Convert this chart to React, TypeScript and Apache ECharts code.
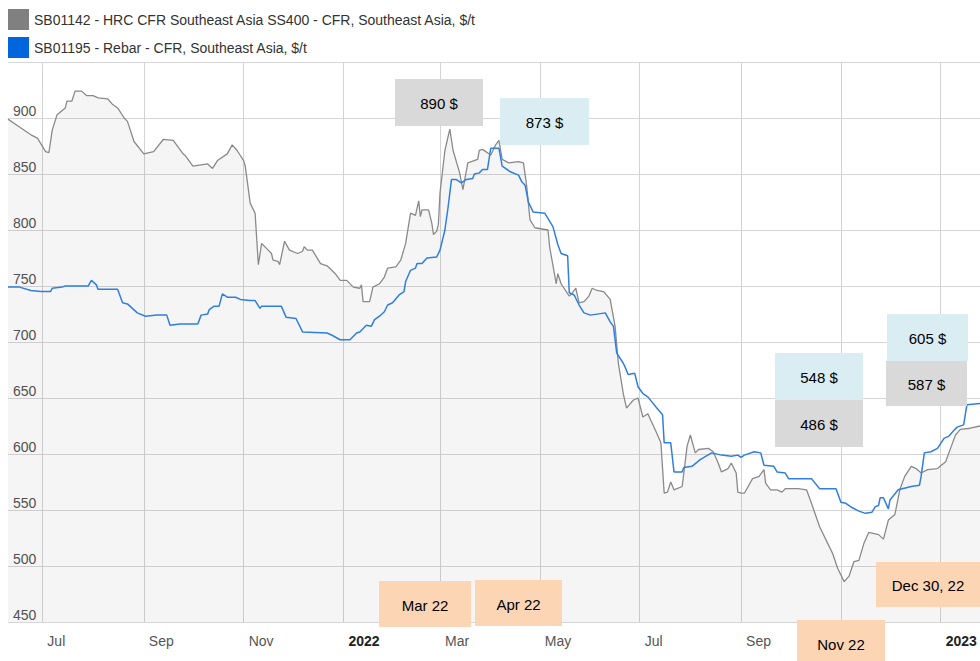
import React, { useEffect, useRef } from "react";
import * as echarts from "echarts";

const FONT = "Liberation Sans";

const hrcName = "SB01142 - HRC CFR Southeast Asia SS400 - CFR, Southeast Asia, $/t";
const rebarName = "SB01195 - Rebar - CFR, Southeast Asia, $/t";

const hrc: [string, number][] = [
  ["2021-06-10", 899], ["2021-06-17", 892], ["2021-06-24", 885], ["2021-06-28", 882],
  ["2021-07-03", 870], ["2021-07-05", 869], ["2021-07-07", 889], ["2021-07-10", 903],
  ["2021-07-15", 909], ["2021-07-16", 915], ["2021-07-19", 915], ["2021-07-21", 924],
  ["2021-07-25", 924], ["2021-07-28", 920], ["2021-08-01", 920], ["2021-08-04", 918],
  ["2021-08-10", 917], ["2021-08-13", 912], ["2021-08-16", 909], ["2021-08-20", 900],
  ["2021-08-22", 897], ["2021-08-26", 879], ["2021-09-01", 868], ["2021-09-07", 870],
  ["2021-09-13", 881], ["2021-09-19", 880], ["2021-09-25", 868], ["2021-09-26", 867],
  ["2021-10-01", 857], ["2021-10-05", 858], ["2021-10-10", 859], ["2021-10-13", 855],
  ["2021-10-16", 862], ["2021-10-22", 868], ["2021-10-25", 876], ["2021-10-28", 871],
  ["2021-11-01", 862], ["2021-11-02", 857], ["2021-11-05", 824], ["2021-11-08", 815],
  ["2021-11-10", 769], ["2021-11-12", 788], ["2021-11-16", 782], ["2021-11-18", 779],
  ["2021-11-19", 773], ["2021-11-22", 772], ["2021-11-23", 769], ["2021-11-26", 790],
  ["2021-11-29", 782], ["2021-12-04", 779], ["2021-12-07", 781], ["2021-12-08", 785],
  ["2021-12-10", 782], ["2021-12-13", 782], ["2021-12-18", 770], ["2021-12-22", 768],
  ["2021-12-27", 761], ["2021-12-30", 755], ["2022-01-03", 755], ["2022-01-07", 749],
  ["2022-01-11", 748], ["2022-01-12", 751], ["2022-01-13", 736], ["2022-01-17", 736],
  ["2022-01-19", 749], ["2022-01-23", 752], ["2022-01-26", 758], ["2022-01-28", 766],
  ["2022-02-02", 767], ["2022-02-05", 773], ["2022-02-08", 788], ["2022-02-11", 815],
  ["2022-02-14", 813], ["2022-02-16", 826], ["2022-02-17", 812], ["2022-02-18", 818],
  ["2022-02-22", 818], ["2022-02-24", 806], ["2022-02-25", 796], ["2022-02-27", 799],
  ["2022-02-28", 805], ["2022-03-01", 833], ["2022-03-04", 871], ["2022-03-07", 890],
  ["2022-03-09", 871], ["2022-03-13", 851], ["2022-03-15", 836], ["2022-03-18", 860],
  ["2022-03-24", 863], ["2022-03-25", 871], ["2022-03-27", 872], ["2022-04-01", 867],
  ["2022-04-04", 876], ["2022-04-06", 880], ["2022-04-08", 863], ["2022-04-12", 860],
  ["2022-04-18", 861], ["2022-04-21", 860], ["2022-04-23", 839], ["2022-04-25", 809],
  ["2022-04-28", 802], ["2022-05-06", 800], ["2022-05-07", 785], ["2022-05-11", 752],
  ["2022-05-12", 761], ["2022-05-14", 752], ["2022-05-19", 741], ["2022-05-21", 744],
  ["2022-05-23", 748], ["2022-05-25", 735], ["2022-05-28", 736], ["2022-05-31", 741],
  ["2022-06-02", 748], ["2022-06-05", 746], ["2022-06-09", 745], ["2022-06-13", 738],
  ["2022-06-16", 714], ["2022-06-18", 681], ["2022-06-21", 654], ["2022-06-23", 641],
  ["2022-06-27", 648], ["2022-06-30", 650], ["2022-07-03", 633], ["2022-07-06", 636],
  ["2022-07-11", 620], ["2022-07-14", 610], ["2022-07-16", 565], ["2022-07-18", 566],
  ["2022-07-20", 575], ["2022-07-22", 568], ["2022-07-27", 571], ["2022-07-30", 607],
  ["2022-08-01", 617], ["2022-08-04", 601], ["2022-08-06", 604], ["2022-08-12", 605],
  ["2022-08-15", 602], ["2022-08-18", 592], ["2022-08-20", 584], ["2022-08-24", 587],
  ["2022-08-26", 592], ["2022-08-29", 583], ["2022-08-30", 566], ["2022-09-01", 565],
  ["2022-09-03", 565], ["2022-09-08", 578], ["2022-09-12", 580], ["2022-09-15", 586],
  ["2022-09-16", 574], ["2022-09-19", 568], ["2022-09-23", 568], ["2022-09-26", 566],
  ["2022-09-28", 569], ["2022-10-01", 569], ["2022-10-06", 569], ["2022-10-11", 568],
  ["2022-10-14", 556], ["2022-10-19", 535], ["2022-10-24", 520], ["2022-10-27", 511],
  ["2022-10-30", 498], ["2022-11-03", 486], ["2022-11-06", 491], ["2022-11-09", 504],
  ["2022-11-12", 505], ["2022-11-15", 520], ["2022-11-18", 530], ["2022-11-24", 528],
  ["2022-11-27", 524], ["2022-11-30", 541], ["2022-12-04", 546], ["2022-12-07", 568],
  ["2022-12-10", 580], ["2022-12-14", 589], ["2022-12-17", 587], ["2022-12-20", 583],
  ["2022-12-24", 586], ["2022-12-30", 587], ["2023-01-04", 593], ["2023-01-07", 605],
  ["2023-01-10", 617], ["2023-01-13", 622], ["2023-01-19", 623], ["2023-01-25", 625],
];

const rebar: [string, number][] = [
  ["2021-06-10", 749], ["2021-06-17", 749], ["2021-06-24", 746], ["2021-06-30", 745],
  ["2021-07-06", 745], ["2021-07-07", 748], ["2021-07-13", 749], ["2021-07-15", 750],
  ["2021-07-29", 750], ["2021-07-31", 755], ["2021-08-03", 751], ["2021-08-04", 747],
  ["2021-08-16", 747], ["2021-08-19", 735], ["2021-08-22", 734], ["2021-08-25", 730],
  ["2021-08-28", 726], ["2021-09-02", 723], ["2021-09-09", 724], ["2021-09-15", 724],
  ["2021-09-17", 715], ["2021-09-23", 716], ["2021-10-04", 716], ["2021-10-06", 724],
  ["2021-10-10", 725], ["2021-10-11", 729], ["2021-10-14", 732], ["2021-10-17", 732],
  ["2021-10-19", 743], ["2021-10-22", 740], ["2021-10-27", 740], ["2021-10-30", 738],
  ["2021-11-05", 737], ["2021-11-08", 737], ["2021-11-11", 730], ["2021-11-12", 732],
  ["2021-11-24", 732], ["2021-11-27", 722], ["2021-12-03", 721], ["2021-12-07", 709],
  ["2021-12-22", 708], ["2021-12-25", 706], ["2021-12-30", 702], ["2022-01-05", 702],
  ["2022-01-09", 708], ["2022-01-11", 709], ["2022-01-15", 715], ["2022-01-18", 714],
  ["2022-01-20", 720], ["2022-01-23", 723], ["2022-01-26", 727], ["2022-01-28", 733],
  ["2022-01-31", 735], ["2022-02-04", 742], ["2022-02-07", 745], ["2022-02-08", 754],
  ["2022-02-11", 764], ["2022-02-14", 766], ["2022-02-15", 770], ["2022-02-18", 770],
  ["2022-02-21", 775], ["2022-02-27", 776], ["2022-03-01", 782], ["2022-03-04", 800],
  ["2022-03-06", 821], ["2022-03-08", 845], ["2022-03-11", 845], ["2022-03-14", 842],
  ["2022-03-17", 845], ["2022-03-21", 846], ["2022-03-22", 850], ["2022-03-25", 851],
  ["2022-03-27", 854], ["2022-03-30", 854], ["2022-04-01", 873], ["2022-04-06", 873],
  ["2022-04-08", 857], ["2022-04-13", 852], ["2022-04-18", 849], ["2022-04-20", 843],
  ["2022-04-22", 840], ["2022-04-24", 825], ["2022-04-27", 816], ["2022-05-04", 815],
  ["2022-05-09", 803], ["2022-05-12", 787], ["2022-05-14", 779], ["2022-05-18", 777],
  ["2022-05-19", 744], ["2022-05-22", 742], ["2022-05-25", 733], ["2022-05-28", 726],
  ["2022-06-01", 724], ["2022-06-10", 726], ["2022-06-13", 718], ["2022-06-15", 714],
  ["2022-06-17", 690], ["2022-06-21", 681], ["2022-06-22", 678], ["2022-06-24", 671],
  ["2022-06-28", 672], ["2022-06-30", 660], ["2022-07-03", 654], ["2022-07-06", 651],
  ["2022-07-11", 642], ["2022-07-15", 635], ["2022-07-16", 610], ["2022-07-20", 610],
  ["2022-07-22", 584], ["2022-07-27", 584], ["2022-07-28", 588], ["2022-08-02", 589],
  ["2022-08-07", 595], ["2022-08-14", 601], ["2022-08-20", 599], ["2022-08-26", 598],
  ["2022-08-30", 599], ["2022-09-01", 597], ["2022-09-03", 599], ["2022-09-09", 602],
  ["2022-09-13", 601], ["2022-09-15", 590], ["2022-09-21", 589], ["2022-09-23", 584],
  ["2022-09-28", 583], ["2022-09-30", 578], ["2022-10-14", 578], ["2022-10-19", 569],
  ["2022-10-29", 569], ["2022-11-01", 557], ["2022-11-04", 556], ["2022-11-08", 552],
  ["2022-11-12", 549], ["2022-11-16", 547], ["2022-11-20", 548], ["2022-11-22", 553],
  ["2022-11-24", 554], ["2022-11-25", 561], ["2022-11-27", 561], ["2022-11-30", 551],
  ["2022-12-01", 559], ["2022-12-06", 568], ["2022-12-14", 571], ["2022-12-19", 572],
  ["2022-12-20", 580], ["2022-12-22", 601], ["2022-12-26", 602], ["2022-12-30", 605],
  ["2023-01-03", 614], ["2023-01-06", 616], ["2023-01-09", 621], ["2023-01-11", 624],
  ["2023-01-15", 626], ["2023-01-17", 644], ["2023-01-25", 645],
];

const xTickDates = [
  "2021-07-01", "2021-09-01", "2021-11-01", "2022-01-01", "2022-03-01",
  "2022-05-01", "2022-07-01", "2022-09-01", "2022-11-01", "2023-01-01",
];
// tick whose label is hidden behind the "Nov 22" note in the reference
const hiddenTickLabels = ["2022-11-01"];
const monthNames = ["Jan", "Feb", "Mar", "Apr", "May", "Jun", "Jul", "Aug", "Sep", "Oct", "Nov", "Dec"];

const xMin = "2021-06-10";
const xMax = "2023-01-25";

const annotations: { text: string; kind: "grey" | "blue" | "peach"; box: [number, number, number, number] }[] = [
  { text: "890 $", kind: "grey", box: [395, 79, 88, 47] },
  { text: "873 $", kind: "blue", box: [500, 98, 89, 47] },
  { text: "548 $", kind: "blue", box: [775, 353, 88, 47] },
  { text: "486 $", kind: "grey", box: [775, 400, 88, 47] },
  { text: "605 $", kind: "blue", box: [887, 314, 81, 47] },
  { text: "587 $", kind: "grey", box: [886, 361, 81, 45] },
  { text: "Mar 22", kind: "peach", box: [379, 581, 92, 46] },
  { text: "Apr 22", kind: "peach", box: [475, 580, 87, 46] },
  { text: "Nov 22", kind: "peach", box: [797, 620, 88, 46] },
  { text: "Dec 30, 22", kind: "peach", box: [876, 562, 104, 45] },
];
const boxColors = { grey: "#d9d9d9", blue: "#daedf3", peach: "#fcd5b5" };

function toTs(s: string) {
  const [y, m, d] = s.split("-").map(Number);
  return new Date(y, m - 1, d).getTime();
}

export default function App() {
  const ref = useRef<HTMLDivElement>(null);
  useEffect(() => {
    if (!ref.current) return;
    const chart = echarts.init(ref.current, undefined, { renderer: "svg" });
    const ticks = xTickDates.map(toTs);
    const hidden = hiddenTickLabels.map(toTs);
    const graphics: any[] = [];
    annotations.forEach((a) => {
      const [x, y, w, h] = a.box;
      graphics.push({
        type: "rect",
        shape: { x, y, width: w, height: h },
        style: { fill: boxColors[a.kind] },
        z: 100,
      });
      graphics.push({
        type: "text",
        x: x + w / 2,
        y: y + h / 2 + 1,
        style: {
          text: a.text,
          fill: "#000",
          font: `15px "${FONT}"`,
          textAlign: "center",
          textVerticalAlign: "middle",
        },
        z: 101,
      });
    });
    chart.setOption({
      animation: false,
      textStyle: { fontFamily: FONT },
      legend: {
        orient: "vertical",
        left: 8,
        top: 9,
        padding: 0,
        itemWidth: 21,
        itemHeight: 21,
        itemGap: 7,
        icon: "rect",
        selectedMode: false,
        textStyle: { fontSize: 14, color: "#333", fontFamily: FONT },
        data: [
          { name: hrcName, itemStyle: { color: "#808080" } },
          { name: rebarName, itemStyle: { color: "#0066dd" } },
        ],
      },
      grid: { left: 8, right: 0, top: 62, bottom: 39, containLabel: false },
      xAxis: {
        type: "value",
        min: toTs(xMin),
        max: toTs(xMax),
        axisLine: { show: false },
        axisTick: { show: false, customValues: ticks },
        splitLine: { show: true, lineStyle: { color: "#d3d3d3", width: 1 } },
        axisLabel: {
          customValues: ticks,
          align: "left",
          padding: [0, 0, 0, 5],
          margin: 12,
          fontSize: 14,
          color: "#555",
          fontFamily: FONT,
          formatter: (v: number) => {
            if (hidden.includes(v)) return "";
            const d = new Date(v);
            if (d.getMonth() === 0) return "{b|" + d.getFullYear() + "}";
            return monthNames[d.getMonth()];
          },
          rich: { b: { fontWeight: "bold", color: "#222", fontSize: 14, fontFamily: FONT } },
        },
      },
      yAxis: {
        type: "value",
        min: 450,
        max: 950,
        interval: 50,
        axisLine: { show: false },
        axisTick: { show: false },
        splitLine: { lineStyle: { color: "#d6d6d6", width: 1 } },
        axisLabel: {
          inside: true,
          margin: 5,
          showMaxLabel: false,
          verticalAlign: "bottom",
          fontSize: 14,
          color: "#555",
          fontFamily: FONT,
        },
      },
      series: [
        {
          name: hrcName,
          type: "line",
          data: hrc.map(([d, v]) => [toTs(d), v]),
          showSymbol: false,
          symbol: "none",
          itemStyle: { color: "#808080" },
          lineStyle: { color: "#8a8a8a", width: 1.3 },
          areaStyle: { color: "rgba(0,0,0,0.055)", origin: "start" },
          z: 2,
        },
        {
          name: rebarName,
          type: "line",
          data: rebar.map(([d, v]) => [toTs(d), v]),
          showSymbol: false,
          symbol: "none",
          itemStyle: { color: "#0066dd" },
          lineStyle: { color: "#2f7fe0", width: 1.5 },
          z: 3,
        },
      ],
      graphic: graphics,
    });
    return () => chart.dispose();
  }, []);
  return (
    <div
      ref={ref}
      style={{ position: "fixed", left: 0, top: 0, width: 980, height: 661, background: "#fff" }}
    />
  );
}
